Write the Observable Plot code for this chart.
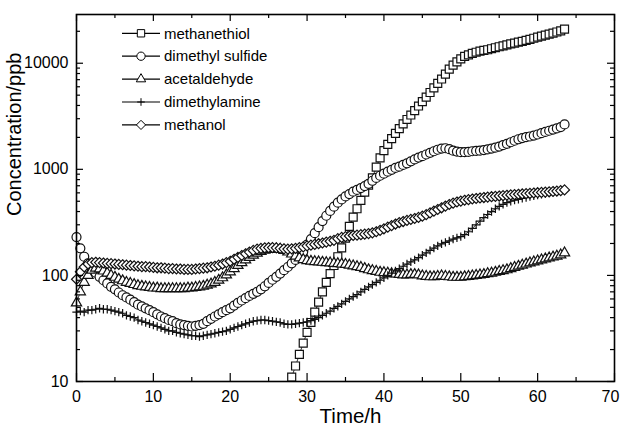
<!DOCTYPE html>
<html><head><meta charset="utf-8">
<script src="https://cdn.jsdelivr.net/npm/d3@7"></script>
<script src="https://cdn.jsdelivr.net/npm/@observablehq/plot@0.6"></script>
<style>
body{margin:0;background:#fff;}
#wrap{position:relative;width:621px;height:427px;}
#legend{position:absolute;left:0;top:0;pointer-events:none;}
</style></head><body>
<div id="wrap"><div id="chart"></div><svg id="legend" width="400" height="150"></svg></div>
<script>
const hours = [0,0.5,1,1.5,2,2.5,3,3.5,4,4.5,5,5.5,6,6.5,7,7.5,8,8.5,9,9.5,10,10.5,11,11.5,12,12.5,13,13.5,14,14.5,15,15.5,16,16.5,17,17.5,18,18.5,19,19.5,20,20.5,21,21.5,22,22.5,23,23.5,24,24.5,25,25.5,26,26.5,27,27.5,28,28.5,29,29.5,30,30.5,31,31.5,32,32.5,33,33.5,34,34.5,35,35.5,36,36.5,37,37.5,38,38.5,39,39.5,40,40.5,41,41.5,42,42.5,43,43.5,44,44.5,45,45.5,46,46.5,47,47.5,48,48.5,49,49.5,50,50.5,51,51.5,52,52.5,53,53.5,54,54.5,55,55.5,56,56.5,57,57.5,58,58.5,59,59.5,60,60.5,61,61.5,62,62.5,63,63.5];
const methanethiolHours = [28,28.5,29,29.5,30,30.5,31,31.5,32,32.5,33,33.5,34,34.5,35,35.5,36,36.5,37,37.5,38,38.5,39,39.5,40,40.5,41,41.5,42,42.5,43,43.5,44,44.5,45,45.5,46,46.5,47,47.5,48,48.5,49,49.5,50,50.5,51,51.5,52,52.5,53,53.5,54,54.5,55,55.5,56,56.5,57,57.5,58,58.5,59,59.5,60,60.5,61,61.5,62,62.5,63,63.5];
const methanethiol = [11,14,18,23,29,36,45,56,70,86,
104,124,150,182,225,290,355,425,510,610,
710,830,1050,1280,1500,1720,1950,2180,2420,2680,
2950,3250,3580,3950,4350,4800,5300,5850,6450,7100,
7900,8800,9600,10300,11000,11600,12000,12400,12700,13000,
13200,13400,13700,14000,14300,14600,14900,15200,15500,15800,
16100,16400,16800,17200,17600,18000,18400,18800,19200,19700,
20200,21000];
const dimethylSulfide = [230,180,150,130,117,106,97,90,84,78,
74,69,65,62,59,56,53,51,49,47,
45,43,41,39.5,38,37,35.5,34.5,34,33.5,
33,33.5,34,35,37,39,41,43,45,47,
49,52,55,58,61,64,67,70,74,79,
85,91,97,104,112,120,130,140,152,168,
195,220,250,285,325,365,405,445,485,520,
555,585,615,640,665,695,730,780,830,870,
910,950,990,1030,1060,1100,1140,1190,1240,1290,
1330,1380,1430,1480,1530,1570,1580,1550,1500,1470,
1450,1450,1460,1480,1490,1500,1520,1540,1570,1600,
1640,1690,1740,1800,1860,1920,1970,2010,2040,2080,
2130,2190,2250,2310,2370,2430,2500,2650];
const acetaldehyde = [55,70,86,100,112,117,115,110,105,100,
96,92,89,86,84,82,80,79,78,77,
76,76,75,75,75,75,75,75,75,76,
76,77,78,79,81,83,86,90,95,101,
108,116,124,132,140,148,155,162,168,173,
176,178,178,176,172,166,159,152,146,141,
138,136,135,134,133,132,131,130,129,128,
127,125,123,121,119,116,113,111,109,107,
106,105,104,103,102,101,101,102,102,101,
99,98,97,97,98,99,98,97,96,96,
96,97,98,99,100,101,102,104,105,107,
109,111,113,116,119,122,125,128,131,134,
137,140,143,146,149,152,156,163];
const dimethylamine = [45,46,45,47,47,48,49,48,48,47,
46,45,44,42,41,40,38,37,36,35,
34,33,32,31,30,30,29,28.5,28,27.5,
27,27,26.5,27,27.5,28,28.5,29,29.5,30,
31,32,33,34,35,36,37,37.5,38,38,
37.5,37,36.5,36,35,34.5,34.5,35,35.5,36,
36.5,37.5,38.5,40,42,44,46,49,51,54,
57,60,63,66,70,74,78,82,86,90,
95,100,105,110,116,122,128,134,140,147,
155,163,172,181,190,198,205,212,220,226,
232,242,258,278,300,325,350,375,400,425,
448,468,485,500,512,522,532,542,552,562,
572,582,592,602,610,618,628,640];
const methanol = [92,108,120,128,132,133,132,131,130,129,
128,127,126,125,124,123,122,121,121,120,
119,118,118,117,116,116,115,115,114,114,
114,115,116,117,118,120,122,125,128,132,
136,142,148,154,160,166,172,177,180,182,
183,183,182,180,178,177,178,180,183,186,
190,193,196,199,202,206,210,214,222,228,
232,235,238,240,242,245,248,252,258,266,
275,285,295,305,315,322,330,337,344,352,
362,374,388,403,418,434,450,466,480,492,
502,511,518,525,531,537,542,547,552,556,
560,565,570,574,578,582,586,590,594,598,
602,606,610,614,618,624,630,640];

const seriesNames = ["methanethiol","dimethyl sulfide","acetaldehyde","dimethylamine","methanol"];
const xMajorLabeled = [0,10,20,30,40,50,60];
const xLastLabel = [70];
const xMajor = [0,10,20,30,40,50,60,70];
const xMinor = [5,15,25,35,45,55,65];
const yMajor = [10,100,1000,10000];
const yMinor = [20,30,40,50,60,70,80,90,200,300,400,500,600,700,800,900,2000,3000,4000,5000,6000,7000,8000,9000,20000];
const xDomain = [0,70];
const yDomain = [10,28800];

const series = [
  {name: seriesNames[0], t: methanethiolHours, v: methanethiol, symbol: "square", r: 4.5, sym: d3.symbolSquare},
  {name: seriesNames[1], t: hours, v: dimethylSulfide, symbol: "circle", r: 4.5, sym: d3.symbolCircle},
  {name: seriesNames[2], t: hours, v: acetaldehyde, symbol: "triangle", r: 3.8, sym: d3.symbolTriangle},
  {name: seriesNames[3], t: hours, v: dimethylamine, symbol: "plus", r: 2.8, sym: d3.symbolPlus},
  {name: seriesNames[4], t: hours, v: methanol, symbol: "diamond2", r: 4.5, sym: d3.symbolDiamond2}
];
const rowsOf = s => s.t.map((t, i) => ({t, v: s.v[i], name: s.name}));

const W = 621, H = 427, mL = 76, mR = 7, mT = 14, mB = 46;
const iw = W - mL - mR, ih = H - mT - mB;
const majLen = 7, minLen = 4;

const marks = [];
for (const s of series) {
  marks.push(Plot.line(rowsOf(s), {x: "t", y: "v", stroke: "#000", strokeWidth: 0.8}));
}
for (const s of series) {
  marks.push(Plot.dot(rowsOf(s), {x: "t", y: "v", symbol: () => s.symbol, r: s.r,
    fill: s.symbol === "plus" ? "none" : "white", stroke: "#111", strokeWidth: 1.2}));
}
marks.push(
  Plot.tickX(xMajor, {x: d => d, insetTop: ih - majLen - 1, stroke: "#000", strokeWidth: 1.2}),
  Plot.tickX(xMinor, {x: d => d, insetTop: ih - minLen, stroke: "#000", strokeWidth: 1.2}),
  Plot.tickX(xMajor, {x: d => d, insetBottom: ih - majLen, stroke: "#000", strokeWidth: 1.2}),
  Plot.tickX(xMinor, {x: d => d, insetBottom: ih - minLen, stroke: "#000", strokeWidth: 1.2}),
  Plot.tickY(yMajor, {y: d => d, insetRight: iw - majLen, stroke: "#000", strokeWidth: 1.2}),
  Plot.tickY(yMinor, {y: d => d, insetRight: iw - minLen, stroke: "#000", strokeWidth: 1.2}),
  Plot.tickY(yMajor, {y: d => d, insetLeft: iw - majLen, stroke: "#000", strokeWidth: 1.2}),
  Plot.tickY(yMinor, {y: d => d, insetLeft: iw - minLen, stroke: "#000", strokeWidth: 1.2}),
  Plot.frame({stroke: "#000", strokeWidth: 1.6}),
  Plot.axisX(xMajorLabeled, {tickSize: 0, tickPadding: 9, label: null, fontSize: 16, tickFormat: d => String(d)}),
  Plot.axisX(xLastLabel, {tickSize: 0, tickPadding: 9, label: null, fontSize: 16, dx: -4, tickFormat: d => String(d)}),
  Plot.axisY(yMajor, {tickSize: 0, tickPadding: 8, label: null, fontSize: 16,
    fontFamily: "'Liberation Sans Narrow', 'Arial Narrow', 'Liberation Sans', Arial, sans-serif",
    tickFormat: d => String(d)}),
  Plot.text(["Time/h"], {text: d => d, frameAnchor: "bottom", dx: 5, dy: 34.5, lineAnchor: "middle", fontSize: 20.5}),
  Plot.text(["Concentration/ppb"], {text: d => d, frameAnchor: "left", dx: -62, dy: 18, rotate: -90, lineAnchor: "middle", fontSize: 20})
);

const chart = Plot.plot({
  width: W, height: H,
  marginLeft: mL, marginRight: mR, marginTop: mT, marginBottom: mB,
  x: {domain: xDomain, axis: null},
  y: {type: "log", domain: yDomain, axis: null},
  style: {fontFamily: "'Liberation Sans', Arial, sans-serif", fontSize: "16px", color: "#000", background: "#fff", overflow: "visible"},
  marks
});
document.getElementById("chart").appendChild(chart);

// legend overlay
const lg = d3.select("#legend");
const legendX0 = 122, legendX1 = 160, legendSym = 141, legendText = 164, legendY0 = 33.3, legendStep = 22.9;
series.forEach((s, i) => {
  const y = legendY0 + i * legendStep;
  lg.append("line").attr("x1", legendX0).attr("x2", legendX1).attr("y1", y).attr("y2", y)
    .attr("stroke", "#000").attr("stroke-width", 1.2);
  lg.append("path").attr("d", d3.symbol(s.sym, Math.PI * s.r * s.r * 0.85)())
    .attr("transform", `translate(${legendSym},${y})`)
    .attr("fill", s.symbol === "plus" ? "none" : "white").attr("stroke", "#000").attr("stroke-width", 1);
  lg.append("text").attr("x", legendText).attr("y", y).attr("dy", "0.35em")
    .attr("font-family", "'Liberation Sans', Arial, sans-serif").attr("font-size", 15)
    .text(s.name);
});
</script>
</body></html>
